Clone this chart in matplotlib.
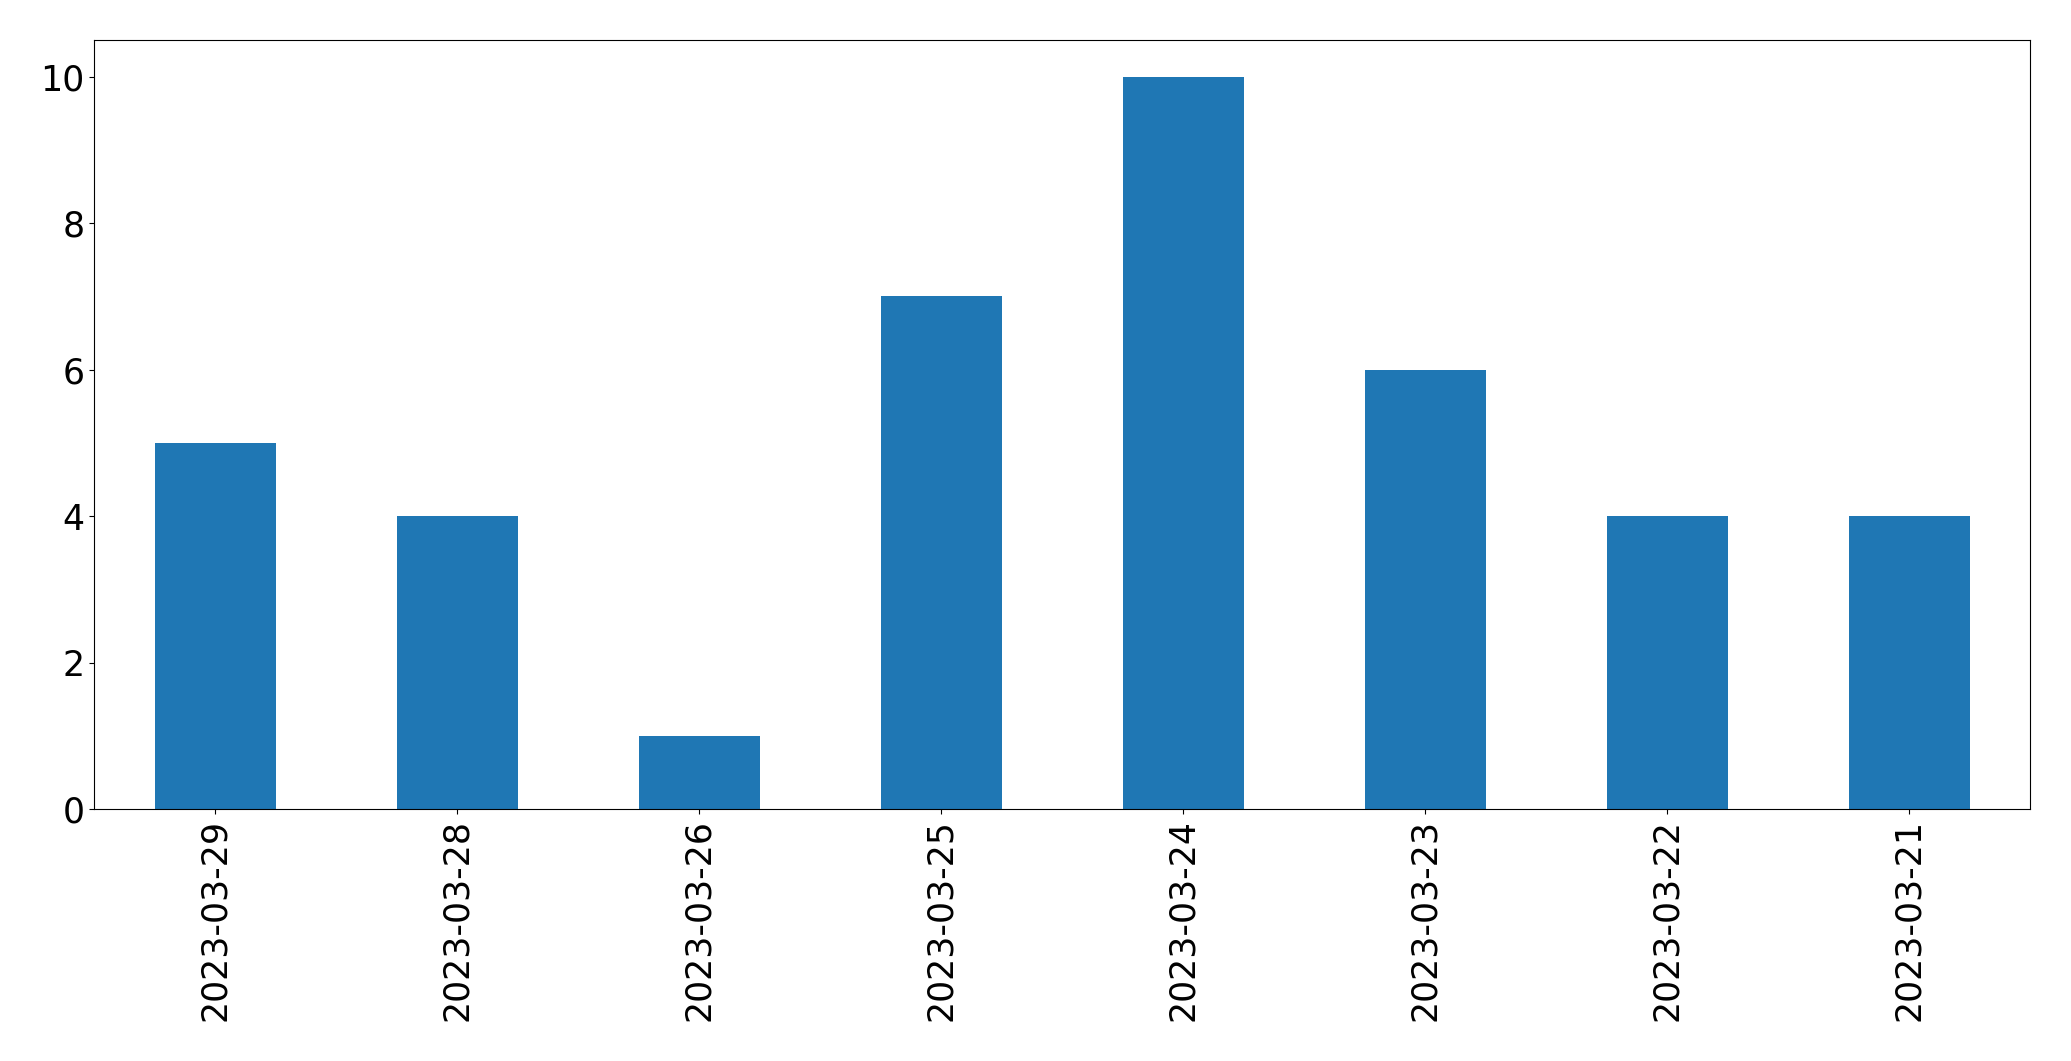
import matplotlib
matplotlib.use("Agg")
import matplotlib.pyplot as plt
import pandas as pd

fechas = ["2023-03-29", "2023-03-28", "2023-03-26", "2023-03-25",
          "2023-03-24", "2023-03-23", "2023-03-22", "2023-03-21"]
conteos = [5, 4, 1, 7, 10, 6, 4, 4]

plt.rcParams["font.size"] = 25

serie = pd.Series(conteos, index=fechas)

fig = plt.figure(figsize=(20.71, 10.61), dpi=100)
ax = fig.add_axes([94 / 2071, 1 - 809 / 1061, (2030 - 94) / 2071, (809 - 40) / 1061])
serie.plot(kind="bar", ax=ax, color="#1f77b4")
ax.tick_params(axis="both", labelsize=25)

fig.savefig("out.png", dpi=100)
